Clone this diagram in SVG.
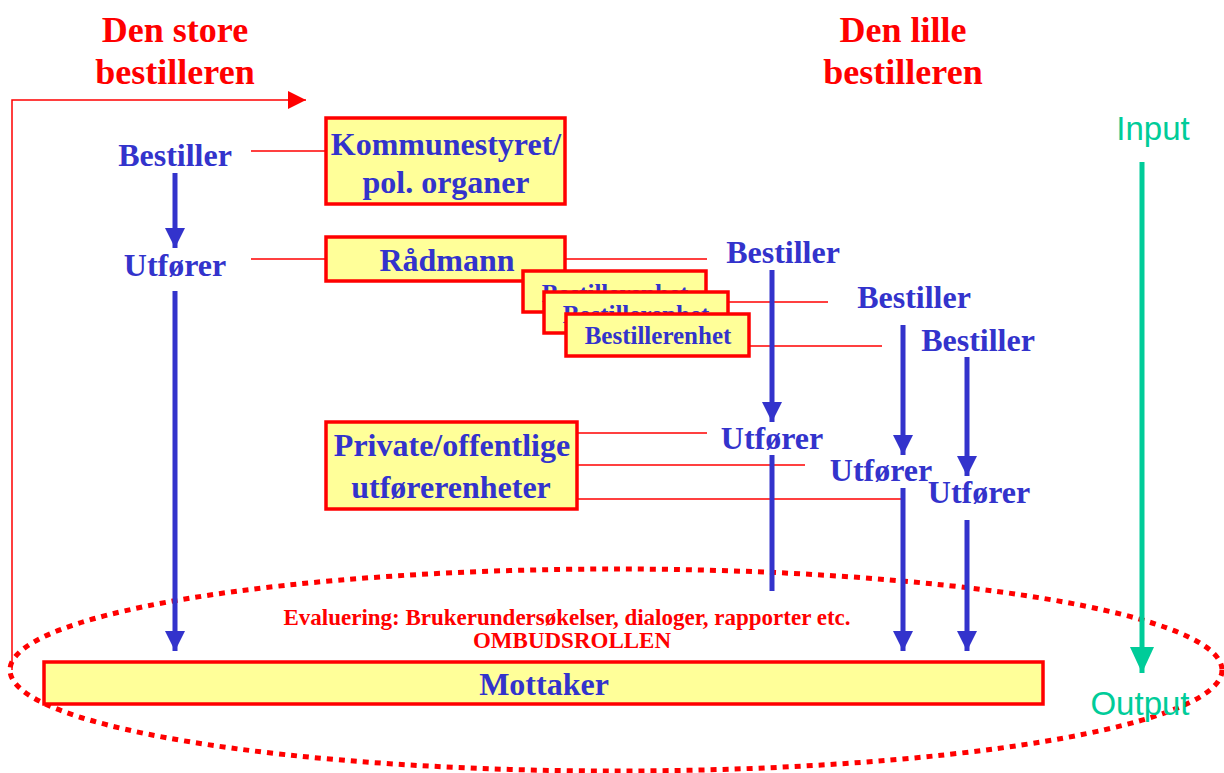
<svg xmlns="http://www.w3.org/2000/svg" width="1224" height="773" viewBox="0 0 1224 773">
  <defs>
    <style>
      .title { font-family: "Liberation Serif", "Times New Roman", serif; font-weight: bold; font-size: 36px; fill: #FF0000; text-anchor: middle; }
      .lbl { font-family: "Liberation Serif", "Times New Roman", serif; font-weight: bold; font-size: 32px; fill: #3333CC; text-anchor: middle; }
      .box { fill: #FFFF99; stroke: #FF0000; stroke-width: 3.5; }
      .unit { font-family: "Liberation Serif", "Times New Roman", serif; font-weight: bold; font-size: 25px; fill: #3333CC; text-anchor: middle; }
      .link { stroke: #FF0000; stroke-width: 1.5; fill: none; }
      .flow { stroke: #3333CC; stroke-width: 5; fill: none; }
      .eval { font-family: "Liberation Serif", "Times New Roman", serif; font-weight: bold; font-size: 23px; fill: #FF0000; text-anchor: middle; }
      .io { font-family: "Liberation Sans", Arial, sans-serif; font-size: 33px; fill: #00CC99; text-anchor: middle; }
    </style>
    <marker id="blueHead" viewBox="0 0 20 20" refX="20" refY="10" markerUnits="userSpaceOnUse" markerWidth="20" markerHeight="20" orient="auto">
      <path d="M0,0 L20,10 L0,20 Z" fill="#3333CC"/>
    </marker>
    <marker id="greenHead" viewBox="0 0 26 24" refX="26" refY="12" markerUnits="userSpaceOnUse" markerWidth="26" markerHeight="24" orient="auto">
      <path d="M0,0 L26,12 L0,24 Z" fill="#00CC99"/>
    </marker>
    <marker id="redHead" viewBox="0 0 18 18" refX="18" refY="9" markerUnits="userSpaceOnUse" markerWidth="18" markerHeight="18" orient="auto">
      <path d="M0,0 L18,9 L0,18 Z" fill="#FF0000"/>
    </marker>
  </defs>

  <rect width="1224" height="773" fill="#FFFFFF"/>

  <!-- column headings -->
  <g id="heading-store">
    <text class="title" x="175" y="42">Den store</text>
    <text class="title" x="175" y="84">bestilleren</text>
  </g>
  <g id="heading-lille">
    <text class="title" x="903" y="42">Den lille</text>
    <text class="title" x="903" y="84">bestilleren</text>
  </g>

  <!-- evaluation loop -->
  <g id="evaluation-loop">
    <ellipse cx="616" cy="670" rx="606" ry="101" fill="none" stroke="#FF0000" stroke-width="5" stroke-dasharray="6 6"/>
    <text class="eval" x="567" y="625">Evaluering: Brukerundersøkelser, dialoger, rapporter etc.</text>
    <text class="eval" x="572" y="648">OMBUDSROLLEN</text>
  </g>

  <!-- connectors -->
  <g id="connectors">
    <!-- feedback from receiver back to the top -->
    <polyline class="link" points="12,670 12,100 306,100" marker-end="url(#redHead)"/>

    <!-- role lines linking labels and boxes -->
    <line class="link" x1="251" y1="151" x2="326" y2="151"/>
    <line class="link" x1="251" y1="259" x2="326" y2="259"/>
    <line class="link" x1="565" y1="259" x2="707" y2="259"/>
    <line class="link" x1="728" y1="302" x2="828" y2="302"/>
    <line class="link" x1="749" y1="346" x2="882" y2="346"/>
    <line class="link" x1="577" y1="433" x2="707" y2="433"/>
    <line class="link" x1="577" y1="465" x2="805" y2="465"/>
    <line class="link" x1="577" y1="499" x2="903" y2="499"/>

    <!-- large orderer column -->
    <line class="flow" x1="175" y1="173" x2="175" y2="248" marker-end="url(#blueHead)"/>
    <line class="flow" x1="175" y1="291" x2="175" y2="651" marker-end="url(#blueHead)"/>

    <!-- small orderer columns -->
    <line class="flow" x1="772" y1="270" x2="772" y2="422" marker-end="url(#blueHead)"/>
    <line class="flow" x1="903" y1="325" x2="903" y2="455" marker-end="url(#blueHead)"/>
    <line class="flow" x1="967" y1="357" x2="967" y2="476" marker-end="url(#blueHead)"/>
    <line class="flow" x1="772" y1="455" x2="772" y2="591"/>
    <line class="flow" x1="903" y1="488" x2="903" y2="651" marker-end="url(#blueHead)"/>
    <line class="flow" x1="967" y1="520" x2="967" y2="651" marker-end="url(#blueHead)"/>

    <!-- input to output -->
    <line stroke="#00CC99" stroke-width="5" x1="1142" y1="162" x2="1142" y2="673" marker-end="url(#greenHead)"/>
  </g>

  <!-- left column labels -->
  <g id="bestiller-stor">
    <text class="lbl" x="175" y="166">Bestiller</text>
  </g>
  <g id="utforer-stor">
    <text class="lbl" x="175" y="276">Utfører</text>
  </g>

  <!-- boxes -->
  <g id="kommunestyret">
    <rect class="box" x="326" y="118" width="239" height="86"/>
    <text class="lbl" x="446" y="155">Kommunestyret/</text>
    <text class="lbl" x="446" y="193">pol. organer</text>
  </g>
  <g id="radmann">
    <rect class="box" x="326" y="237" width="239" height="44"/>
    <text class="lbl" x="447" y="271">Rådmann</text>
  </g>
  <g id="bestillerenhet-1">
    <rect class="box" x="523" y="271" width="183" height="41"/>
    <text class="unit" x="615" y="302">Bestillerenhet</text>
  </g>
  <g id="bestillerenhet-2">
    <rect class="box" x="544" y="292" width="184" height="41"/>
    <text class="unit" x="636" y="323">Bestillerenhet</text>
  </g>
  <g id="bestillerenhet-3">
    <rect class="box" x="566" y="314" width="183" height="42"/>
    <text class="unit" x="658" y="344">Bestillerenhet</text>
  </g>
  <g id="utforerenheter">
    <rect class="box" x="326" y="422" width="251" height="87"/>
    <text class="lbl" x="452" y="456">Private/offentlige</text>
    <text class="lbl" x="451" y="498">utførerenheter</text>
  </g>
  <g id="mottaker">
    <rect class="box" x="44" y="662" width="999" height="42"/>
    <text class="lbl" x="544" y="695">Mottaker</text>
  </g>

  <!-- right column labels -->
  <g id="bestiller-1">
    <text class="lbl" x="783" y="263">Bestiller</text>
  </g>
  <g id="bestiller-2">
    <text class="lbl" x="914" y="308">Bestiller</text>
  </g>
  <g id="bestiller-3">
    <text class="lbl" x="978" y="351">Bestiller</text>
  </g>
  <g id="utforer-1">
    <text class="lbl" x="772" y="449">Utfører</text>
  </g>
  <g id="utforer-2">
    <text class="lbl" x="881" y="481">Utfører</text>
  </g>
  <g id="utforer-3">
    <text class="lbl" x="979" y="503">Utfører</text>
  </g>

  <!-- input / output -->
  <g id="input">
    <text class="io" x="1153" y="140">Input</text>
  </g>
  <g id="output">
    <text class="io" x="1140" y="715">Output</text>
  </g>
</svg>
